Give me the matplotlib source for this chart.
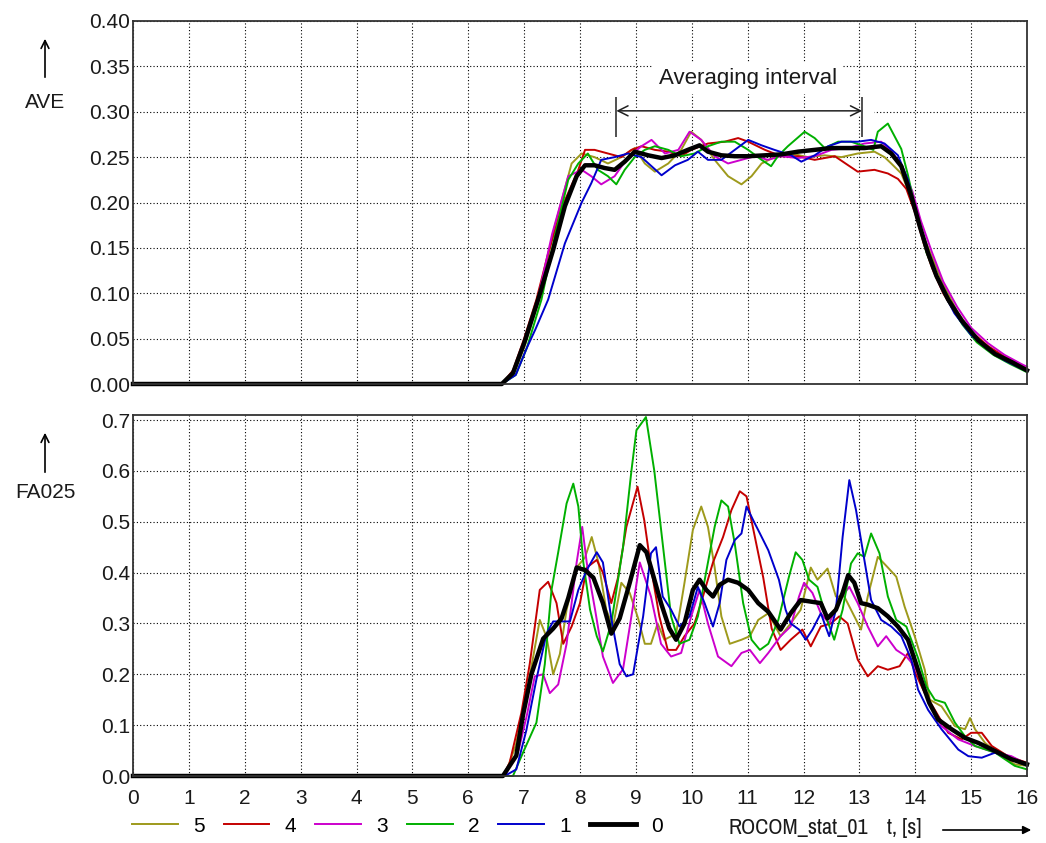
import matplotlib
matplotlib.use("Agg")
import matplotlib.pyplot as plt
import numpy as np
from matplotlib import font_manager
from matplotlib.lines import Line2D

plt.rcParams["font.family"] = ["Liberation Sans", "DejaVu Sans"]

# the run id under the axis is set in a narrower face in the original
_names = sorted({f.name for f in font_manager.fontManager.ttflist})
_narrow = [n for n in _names if "Narrow" in n or "Condensed" in n]
NARROW = [_narrow[0], "Liberation Sans"] if _narrow else ["Liberation Sans"]

# ---------------------------------------------------------------- data
run_labels = ["5", "4", "3", "2", "1", "0"]
run_colors = ["#9e9a1c", "#c40000", "#cc00cc", "#00b000", "#0000cc", "black"]

avg_from, avg_to = 8.65, 13.05

# upper panel: AVE
t_ave_5 = [0, 6.6, 6.8, 7.0, 7.25, 7.55, 7.85, 8.03, 8.26, 8.50, 8.74, 8.98, 9.16, 9.34, 9.58,
           9.81, 9.99, 10.17, 10.41, 10.65, 10.89, 11.07, 11.25, 11.48, 11.78, 12.08, 12.38,
           12.68, 12.97, 13.27, 13.45, 13.57, 13.75, 13.93, 14.1, 14.3, 14.5, 14.75, 15.0,
           15.3, 15.6, 16.0]
ave_5 = [0, 0, 0.01, 0.04, 0.09, 0.174, 0.243, 0.254, 0.25, 0.243, 0.25, 0.26, 0.243, 0.234,
         0.243, 0.258, 0.278, 0.269, 0.247, 0.229, 0.22, 0.229, 0.243, 0.25, 0.254, 0.25,
         0.252, 0.25, 0.254, 0.256, 0.25, 0.243, 0.232, 0.205, 0.17, 0.14, 0.11, 0.08, 0.058,
         0.04, 0.028, 0.016]

t_ave_4 = [0, 6.6, 6.8, 7.0, 7.22, 7.43, 7.67, 7.97, 8.09, 8.26, 8.50, 8.74, 8.92, 9.10, 9.34,
           9.58, 9.81, 9.99, 10.29, 10.59, 10.83, 11.01, 11.31, 11.60, 11.90, 12.20, 12.56,
           12.80, 12.97, 13.27, 13.51, 13.69, 13.84, 14.0, 14.15, 14.3, 14.5, 14.75, 15.0,
           15.3, 15.6, 16.0]
ave_4 = [0, 0, 0.015, 0.05, 0.093, 0.144, 0.194, 0.236, 0.258, 0.258, 0.254, 0.25, 0.258,
         0.262, 0.258, 0.256, 0.251, 0.258, 0.265, 0.267, 0.271, 0.267, 0.258, 0.251, 0.251,
         0.247, 0.251, 0.241, 0.234, 0.236, 0.232, 0.226, 0.215, 0.188, 0.155, 0.128, 0.100,
         0.075, 0.058, 0.042, 0.03, 0.017]

t_ave_3 = [0, 6.6, 6.8, 7.0, 7.25, 7.5, 7.79, 8.03, 8.20, 8.38, 8.62, 8.86, 9.10, 9.28, 9.52,
           9.76, 9.96, 10.17, 10.41, 10.65, 10.89, 11.13, 11.36, 11.60, 11.90, 12.20, 12.50,
           12.80, 13.09, 13.39, 13.55, 13.75, 13.95, 14.1, 14.3, 14.5, 14.75, 15.0, 15.3,
           15.6, 15.9, 16.0]
ave_3 = [0, 0, 0.012, 0.045, 0.095, 0.165, 0.229, 0.236, 0.229, 0.22, 0.229, 0.25, 0.262,
         0.269, 0.254, 0.258, 0.278, 0.269, 0.251, 0.243, 0.247, 0.251, 0.247, 0.251, 0.249,
         0.251, 0.258, 0.26, 0.265, 0.267, 0.258, 0.242, 0.212, 0.18, 0.145, 0.113, 0.085,
         0.062, 0.045, 0.032, 0.022, 0.019]

t_ave_2 = [0, 6.6, 6.85, 7.05, 7.31, 7.55, 7.79, 7.97, 8.14, 8.32, 8.50, 8.65, 8.80, 8.98,
           9.16, 9.34, 9.58, 9.81, 10.05, 10.29, 10.53, 10.77, 11.01, 11.25, 11.42, 11.54,
           11.72, 12.02, 12.20, 12.38, 12.62, 12.85, 13.09, 13.25, 13.33, 13.51, 13.75, 13.87,
           14.05, 14.2, 14.4, 14.6, 14.85, 15.1, 15.4, 15.7, 16.0]
ave_2 = [0, 0, 0.01, 0.04, 0.093, 0.163, 0.225, 0.243, 0.254, 0.236, 0.229, 0.22, 0.236, 0.25,
         0.258, 0.262, 0.258, 0.251, 0.254, 0.262, 0.267, 0.267, 0.258, 0.247, 0.24, 0.251,
         0.262, 0.278, 0.271, 0.26, 0.267, 0.267, 0.262, 0.258, 0.278, 0.287, 0.259, 0.23,
         0.18, 0.145, 0.115, 0.09, 0.065, 0.046, 0.032, 0.022, 0.013]

t_ave_1 = [0, 6.6, 6.85, 7.05, 7.2, 7.43, 7.73, 8.03, 8.20, 8.38, 8.62, 8.86, 9.10, 9.28,
           9.46, 9.70, 9.93, 10.11, 10.29, 10.53, 10.77, 11.01, 11.25, 11.48, 11.78, 11.96,
           12.20, 12.44, 12.68, 12.97, 13.21, 13.45, 13.69, 13.87, 14.05, 14.25, 14.45, 14.7,
           15.0, 15.3, 15.6, 16.0]
ave_1 = [0, 0, 0.01, 0.04, 0.06, 0.093, 0.155, 0.20, 0.221, 0.247, 0.25, 0.254, 0.25, 0.24,
         0.23, 0.241, 0.247, 0.256, 0.247, 0.247, 0.258, 0.269, 0.263, 0.258, 0.252, 0.245,
         0.252, 0.262, 0.267, 0.267, 0.269, 0.265, 0.252, 0.225, 0.18, 0.14, 0.108, 0.078,
         0.054, 0.038, 0.026, 0.014]

t_ave_0 = [0, 6.6, 6.8, 7.0, 7.25, 7.52, 7.73, 7.94, 8.09, 8.26, 8.44, 8.62, 8.80, 8.98, 9.22,
           9.46, 9.70, 9.93, 10.14, 10.29, 10.53, 10.77, 11.01, 11.31, 11.60, 11.90, 12.20,
           12.50, 12.80, 13.09, 13.39, 13.57, 13.75, 13.93, 14.08, 14.23, 14.38, 14.59, 14.83,
           15.13, 15.43, 15.73, 16.0]
ave_0 = [0, 0, 0.012, 0.045, 0.093, 0.148, 0.196, 0.229, 0.241, 0.241, 0.238, 0.236, 0.245,
         0.256, 0.252, 0.249, 0.252, 0.258, 0.263, 0.256, 0.252, 0.251, 0.251, 0.252, 0.253,
         0.256, 0.258, 0.26, 0.26, 0.26, 0.262, 0.254, 0.24, 0.207, 0.174, 0.144, 0.119,
         0.093, 0.07, 0.048, 0.033, 0.024, 0.015]

# lower panel: FA025
t_fa_5 = [0, 6.65, 6.85, 7.10, 7.28, 7.40, 7.52, 7.64, 7.76, 7.94, 8.09, 8.21, 8.33, 8.47,
          8.59, 8.74, 8.89, 9.04, 9.16, 9.27, 9.39, 9.51, 9.72, 9.87, 10.02, 10.17, 10.29,
          10.41, 10.53, 10.68, 10.89, 11.04, 11.19, 11.37, 11.59, 11.77, 11.95, 12.13, 12.25,
          12.43, 12.58, 12.73, 12.91, 13.03, 13.15, 13.33, 13.51, 13.66, 13.81, 13.99, 14.17,
          14.26, 14.47, 14.71, 14.89, 14.98, 15.07, 15.25, 15.55, 15.78, 16.0]
fa_5 = [0, 0, 0.06, 0.196, 0.307, 0.274, 0.20, 0.24, 0.327, 0.41, 0.43, 0.47, 0.42, 0.327,
        0.294, 0.38, 0.36, 0.31, 0.26, 0.26, 0.30, 0.268, 0.28, 0.38, 0.484, 0.53, 0.49, 0.41,
        0.314, 0.26, 0.268, 0.275, 0.307, 0.32, 0.275, 0.30, 0.327, 0.41, 0.386, 0.408, 0.353,
        0.353, 0.314, 0.288, 0.353, 0.431, 0.41, 0.392, 0.333, 0.275, 0.209, 0.15, 0.137,
        0.098, 0.092, 0.114, 0.092, 0.065, 0.039, 0.023, 0.02]

t_fa_4 = [0, 6.62, 6.74, 6.95, 7.10, 7.28, 7.43, 7.58, 7.70, 7.85, 8.00, 8.12, 8.30, 8.41,
          8.56, 8.68, 8.83, 9.03, 9.15, 9.27, 9.42, 9.57, 9.72, 9.87, 10.05, 10.20, 10.38,
          10.56, 10.71, 10.86, 10.98, 11.13, 11.28, 11.43, 11.59, 11.77, 11.98, 12.13, 12.31,
          12.49, 12.64, 12.79, 12.97, 13.15, 13.33, 13.51, 13.72, 13.87, 14.0, 14.17, 14.35,
          14.59, 14.83, 15.0, 15.19, 15.37, 15.66, 16.0]
fa_4 = [0, 0, 0.026, 0.124, 0.22, 0.366, 0.382, 0.34, 0.26, 0.294, 0.34, 0.41, 0.425, 0.40,
        0.34, 0.39, 0.49, 0.569, 0.503, 0.41, 0.314, 0.248, 0.248, 0.275, 0.30, 0.353, 0.42,
        0.47, 0.523, 0.56, 0.55, 0.47, 0.39, 0.29, 0.248, 0.268, 0.288, 0.255, 0.294, 0.30,
        0.314, 0.30, 0.229, 0.196, 0.216, 0.209, 0.216, 0.242, 0.203, 0.163, 0.13, 0.085,
        0.072, 0.085, 0.085, 0.059, 0.039, 0.026]

t_fa_3 = [0, 6.65, 6.9, 7.05, 7.19, 7.34, 7.46, 7.61, 7.76, 7.94, 8.04, 8.12, 8.27, 8.41,
          8.59, 8.77, 8.92, 9.07, 9.16, 9.27, 9.45, 9.63, 9.81, 9.99, 10.14, 10.29, 10.47,
          10.71, 10.89, 11.04, 11.22, 11.37, 11.59, 11.77, 11.92, 12.01, 12.16, 12.31, 12.46,
          12.64, 12.82, 12.97, 13.15, 13.33, 13.48, 13.66, 13.84, 13.99, 14.23, 14.47, 14.77,
          15.07, 15.43, 15.72, 16.0]
fa_3 = [0, 0, 0.05, 0.12, 0.196, 0.20, 0.163, 0.18, 0.26, 0.42, 0.49, 0.42, 0.327, 0.235,
        0.183, 0.21, 0.314, 0.42, 0.39, 0.353, 0.26, 0.235, 0.242, 0.314, 0.366, 0.30, 0.235,
        0.216, 0.242, 0.248, 0.222, 0.242, 0.275, 0.294, 0.353, 0.38, 0.36, 0.32, 0.30, 0.346,
        0.372, 0.34, 0.294, 0.255, 0.275, 0.248, 0.235, 0.216, 0.15, 0.098, 0.072, 0.059,
        0.046, 0.039, 0.023]

t_fa_2 = [0, 6.80, 6.98, 7.22, 7.37, 7.49, 7.61, 7.76, 7.88, 7.97, 8.06, 8.18, 8.30, 8.41,
          8.56, 8.77, 8.92, 9.01, 9.18, 9.33, 9.48, 9.63, 9.78, 9.96, 10.11, 10.29, 10.41,
          10.53, 10.65, 10.77, 10.92, 11.07, 11.22, 11.37, 11.55, 11.74, 11.86, 11.98, 12.10,
          12.25, 12.40, 12.55, 12.70, 12.85, 12.97, 13.09, 13.21, 13.36, 13.51, 13.66, 13.84,
          14.05, 14.20, 14.35, 14.53, 14.71, 14.89, 15.07, 15.43, 15.78, 16.0]
fa_2 = [0, 0, 0.046, 0.105, 0.22, 0.366, 0.44, 0.536, 0.575, 0.53, 0.42, 0.327, 0.275, 0.245,
        0.30, 0.45, 0.60, 0.68, 0.706, 0.60, 0.457, 0.314, 0.26, 0.268, 0.314, 0.42, 0.49,
        0.542, 0.53, 0.457, 0.34, 0.268, 0.248, 0.26, 0.307, 0.392, 0.44, 0.425, 0.386, 0.372,
        0.314, 0.268, 0.327, 0.418, 0.438, 0.431, 0.477, 0.438, 0.353, 0.307, 0.294, 0.232,
        0.176, 0.15, 0.144, 0.105, 0.078, 0.059, 0.046, 0.02, 0.013]

t_fa_1 = [0, 6.65, 6.86, 7.04, 7.22, 7.40, 7.52, 7.70, 7.82, 7.97, 8.12, 8.30, 8.41, 8.56,
          8.71, 8.83, 8.95, 9.13, 9.27, 9.36, 9.48, 9.63, 9.78, 9.96, 10.11, 10.23, 10.38,
          10.50, 10.62, 10.77, 10.89, 10.98, 11.10, 11.22, 11.37, 11.56, 11.68, 11.77, 11.92,
          12.04, 12.16, 12.31, 12.46, 12.58, 12.70, 12.82, 12.94, 13.06, 13.21, 13.39, 13.57,
          13.75, 13.93, 14.05, 14.23, 14.47, 14.77, 14.95, 15.19, 15.43, 15.72, 16.0]
fa_1 = [0, 0, 0.013, 0.09, 0.19, 0.28, 0.304, 0.304, 0.304, 0.366, 0.405, 0.44, 0.42, 0.31,
        0.22, 0.196, 0.20, 0.314, 0.438, 0.45, 0.353, 0.327, 0.294, 0.314, 0.372, 0.34, 0.294,
        0.34, 0.425, 0.464, 0.477, 0.53, 0.503, 0.477, 0.444, 0.386, 0.327, 0.30, 0.288,
        0.268, 0.288, 0.32, 0.275, 0.327, 0.47, 0.582, 0.523, 0.444, 0.346, 0.307, 0.294,
        0.275, 0.229, 0.17, 0.13, 0.092, 0.052, 0.039, 0.036, 0.046, 0.033, 0.02]

t_fa_0 = [0, 6.62, 6.86, 6.98, 7.13, 7.34, 7.52, 7.67, 7.79, 7.94, 8.09, 8.24, 8.41, 8.56,
          8.71, 8.89, 9.07, 9.19, 9.27, 9.45, 9.60, 9.72, 9.87, 10.02, 10.14, 10.26, 10.38,
          10.50, 10.65, 10.83, 11.01, 11.19, 11.37, 11.59, 11.77, 11.95, 12.13, 12.31, 12.43,
          12.58, 12.70, 12.80, 12.91, 13.03, 13.15, 13.33, 13.51, 13.69, 13.87, 14.0, 14.15,
          14.25, 14.41, 14.65, 14.89, 15.13, 15.43, 15.72, 16.0]
fa_0 = [0, 0, 0.04, 0.12, 0.20, 0.27, 0.29, 0.31, 0.35, 0.41, 0.405, 0.39, 0.34, 0.28, 0.31,
        0.38, 0.454, 0.44, 0.41, 0.34, 0.29, 0.268, 0.30, 0.366, 0.386, 0.366, 0.353, 0.376,
        0.386, 0.38, 0.366, 0.34, 0.323, 0.288, 0.32, 0.346, 0.343, 0.34, 0.31, 0.327, 0.36,
        0.395, 0.38, 0.34, 0.337, 0.33, 0.314, 0.294, 0.268, 0.225, 0.175, 0.144, 0.111,
        0.092, 0.075, 0.065, 0.049, 0.033, 0.023]

ave_t = [t_ave_5, t_ave_4, t_ave_3, t_ave_2, t_ave_1, t_ave_0]
ave_v = [ave_5, ave_4, ave_3, ave_2, ave_1, ave_0]
fa_t = [t_fa_5, t_fa_4, t_fa_3, t_fa_2, t_fa_1, t_fa_0]
fa_v = [fa_5, fa_4, fa_3, fa_2, fa_1, fa_0]

FS = 15
W, H = 1046, 843


def px(x, y):
    """pixel position in the picture -> figure fraction"""
    return x / W, 1 - y / H


def style_axes(ax, ymax, yticks, fmt):
    ax.set_xlim(0, 16)
    ax.set_ylim(0, ymax)
    ax.set_xticks(range(17))
    ax.set_yticks(yticks)
    ax.set_yticklabels([fmt.format(v) for v in yticks])
    ax.set_axisbelow(True)
    ax.grid(True, color="black", lw=0.8, ls=(0, (1, 2)))
    ax.tick_params(length=0, labelsize=FS, colors="#1a1a1a")
    ax.tick_params(axis="y", pad=2)
    ax.tick_params(axis="x", pad=9)
    for s in ax.spines.values():
        s.set_color("#333333")
        s.set_linewidth(1.3)


def draw_runs(ax, ts, vs):
    for t, v, c in zip(ts, vs, run_colors):
        lw = 3.2 if c == "black" else 1.4
        ax.plot(t, v, color=c, lw=lw, clip_on=False, solid_joinstyle="round")


fig = plt.figure(figsize=(W / 100, H / 100), dpi=100)

# top panel (AVE)
ax1 = fig.add_axes([133 / W, 1 - 384 / H, 894 / W, 363 / H])
style_axes(ax1, 0.40, np.arange(0, 0.401, 0.05), "{:.2f}")
ax1.tick_params(axis="x", labelbottom=False)
draw_runs(ax1, ave_t, ave_v)

# averaging interval marker
ax1.hlines(0.301, avg_from - 0.12, avg_to + 0.22, color="white", lw=5, zorder=2)
ax1.vlines([avg_from, avg_to], 0.272, 0.316, color="#202020", lw=1.1, zorder=3)
ax1.annotate("", xy=(avg_from, 0.301), xytext=(avg_to, 0.301),
             arrowprops=dict(arrowstyle="<->", lw=1.1, color="#202020",
                             shrinkA=0, shrinkB=0, mutation_scale=18), zorder=3)
ax1.text(11.0, 0.337, "Averaging interval", ha="center", va="center", fontsize=FS + 1,
         color="#1a1a1a", zorder=3,
         bbox=dict(facecolor="white", edgecolor="none", pad=4))

# bottom panel (FA025)
ax2 = fig.add_axes([133 / W, 1 - 776 / H, 894 / W, 361 / H])
style_axes(ax2, 0.71, np.arange(0, 0.701, 0.1), "{:.1f}")
draw_runs(ax2, fa_t, fa_v)

# y-axis names with upward arrows
for name, y_txt, y_lo, y_hi in [("AVE", 102, 80, 36), ("FA025", 492, 475, 430)]:
    fig.text(*px(45, y_txt), name, ha="center", va="center", fontsize=FS, color="#1a1a1a")
    fig.add_artist(matplotlib.patches.FancyArrowPatch(
        px(45, y_lo), px(45, y_hi), transform=fig.transFigure,
        arrowstyle="->", mutation_scale=14, lw=1.2, color="black"))

# legend row under the time axis
handles = [Line2D([], [], color=c, lw=3.5 if c == "black" else 1.4) for c in run_colors]
fig.legend(handles, run_labels, loc="center left", bbox_to_anchor=px(132, 826),
           ncol=6, frameon=False, fontsize=FS, handlelength=2.2, handletextpad=0.72,
           columnspacing=0.92, borderpad=0, borderaxespad=0)

fig.text(*px(868, 828), "ROCOM_stat_01", ha="right", va="center", fontsize=FS + 1,
         family=NARROW, color="#1a1a1a")
fig.text(*px(887, 828), "t, [s]", ha="left", va="center", fontsize=FS + 1,
         family=NARROW, color="#1a1a1a")
fig.add_artist(matplotlib.patches.FancyArrowPatch(
    px(940, 830), px(1034, 830), transform=fig.transFigure,
    arrowstyle="-|>", mutation_scale=12, lw=1.2, color="black"))

fig.savefig("out.png", dpi=100, facecolor="white")
plt.close(fig)
